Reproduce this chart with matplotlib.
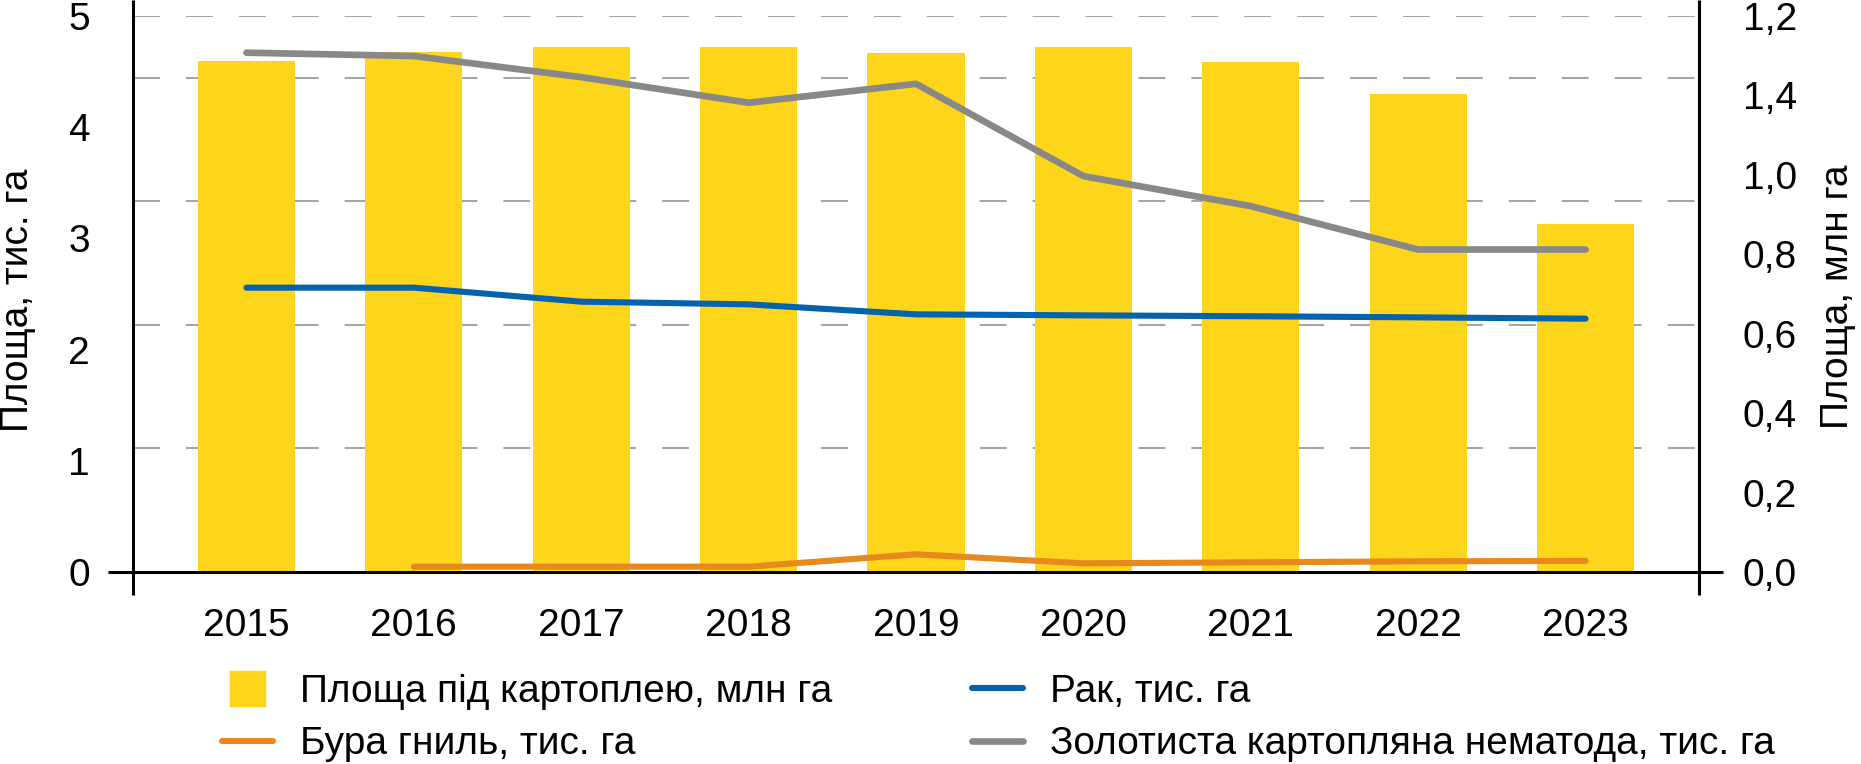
import matplotlib
matplotlib.use("Agg")
import matplotlib.pyplot as plt
import matplotlib.patches as mpatches
from matplotlib.lines import Line2D
from matplotlib.legend_handler import HandlerPatch
import numpy as np

plt.rcParams['font.family'] = ['Liberation Sans', 'DejaVu Sans']
plt.rcParams['lines.scale_dashes'] = False

# ---- data ----
years = ["2015", "2016", "2017", "2018", "2019", "2020", "2021", "2022", "2023"]
potato_area = [1.287, 1.309, 1.322, 1.322, 1.307, 1.322, 1.284, 1.204, 0.876]   # млн га (right axis)
rak = [2.557, 2.557, 2.431, 2.407, 2.317, 2.308, 2.300, 2.290, 2.278]          # тис. га
bura = [np.nan, 0.048, 0.048, 0.048, 0.159, 0.078, 0.087, 0.096, 0.100]       # тис. га
nematoda = [4.67, 4.64, 4.45, 4.22, 4.39, 3.56, 3.29, 2.90, 2.90]             # тис. га

left_ticks = [0, 1, 2, 3, 4, 5]
left_labels = ["0", "1", "2", "3", "4", "5"]
right_ticks = [0.0, 0.2, 0.4, 0.6, 0.8, 1.0, 1.2, 1.4]
right_labels = ["0,0", "0,2", "0,4", "0,6", "0,8", "1,0", "1,4", "1,2"]
grid_levels = [1, 2, 3, 4, 4.5]
grid_max = 4.5

label_bars = "Площа під картоплею, млн га"
label_bura = "Бура гниль, тис. га"
label_rak = "Рак, тис. га"
label_nem = "Золотиста картопляна нематода, тис. га"
ylabel_left = "Площа, тис. га"
ylabel_right = "Площа, млн га"

# ---- style ----
c_yellow = "#FDD51A"
c_blue = "#0563AE"
c_orange = "#E8891E"
c_gray = "#888888"
c_grid = "#A6A6A6"
fs = 28

W, H = 1861, 764
fig = plt.figure(figsize=(W / 100, H / 100), dpi=100)
L, R, T, B = 133, 1699, 16, 572
ax_b = fig.add_axes([L / W, 1 - B / H, (R - L) / W, (B - T) / H])
x = np.arange(len(years))

# gridlines (dashed) behind bars
for g in grid_levels:
    ax_b.plot([0, 1], [g / grid_max] * 2, transform=ax_b.transAxes,
              color=c_grid, lw=1.5, linestyle=(0, (19.4, 18.7)), zorder=0,
              solid_capstyle='butt', dash_capstyle='butt')

ax_b.bar(x, potato_area, width=0.58, color=c_yellow, zorder=2)
ax_b.set_ylim(0, 1.4)
ax_b.set_xlim(-0.678, len(years) - 1 + 0.678)

ax_l = ax_b.twinx()
ax_b.yaxis.tick_right()
ax_l.yaxis.tick_left()
ax_b.set_yticks(right_ticks)
ax_b.set_yticklabels(right_labels)
ax_l.set_ylim(0, 5)
ax_l.set_yticks(left_ticks)
ax_l.set_yticklabels(left_labels)
lw_line = 4.4
ax_l.plot(x, rak, color=c_blue, lw=lw_line, solid_capstyle='round', solid_joinstyle='round')
ax_l.plot(x, bura, color=c_orange, lw=lw_line, solid_capstyle='round', solid_joinstyle='round')
ax_l.plot(x, nematoda, color=c_gray, lw=lw_line + 0.4, solid_capstyle='round', solid_joinstyle='round')

for a in (ax_b, ax_l):
    for s in a.spines.values():
        s.set_visible(False)
    a.tick_params(axis='both', length=0, labelsize=fs, colors='black')
ax_b.tick_params(axis='y', pad=31.5)
ax_l.tick_params(axis='y', pad=31)
ax_b.set_xticks(x)
ax_b.set_xticklabels(years)
ax_b.tick_params(axis='x', pad=26)

# axis lines (extending past the plot area)
hh = B - T
ww = R - L
kw = dict(color='black', lw=2.2, clip_on=False, zorder=5, solid_capstyle='butt')
ax_l.plot([0, 0], [-23 / hh, 1 + 16 / hh], transform=ax_l.transAxes, **kw)
ax_l.plot([1, 1], [-23 / hh, 1 + 16 / hh], transform=ax_l.transAxes, **kw)
ax_l.plot([-25 / ww, 1 + 24 / ww], [0, 0], transform=ax_l.transAxes, **kw)

# axis titles
fig.text(18 / W, 1 - 300 / H, ylabel_left, rotation=90, ha='center', va='center', fontsize=fs)
fig.text(1838 / W, 1 - 297 / H, ylabel_right, rotation=90, ha='center', va='center', fontsize=fs)

# legend
side = 25.2  # points


def make_square(legend, orig_handle, xdescent, ydescent, width, height, fontsize):
    cx = -xdescent + width / 2
    cy = -ydescent + height / 2
    return mpatches.Rectangle((cx - side / 2, cy - side / 2), side, side)


h_bar = mpatches.Patch(color=c_yellow)
h_bura = Line2D([], [], color=c_orange, lw=lw_line, solid_capstyle='round')
h_rak = Line2D([], [], color=c_blue, lw=lw_line, solid_capstyle='round')
h_nem = Line2D([], [], color=c_gray, lw=lw_line + 0.4, solid_capstyle='round')
leg = fig.legend([h_bar, h_bura, h_rak, h_nem], [label_bars, label_bura, label_rak, label_nem],
                 ncol=2, loc='upper left', bbox_to_anchor=(222 / W, 1 - 674 / H),
                 frameon=False, fontsize=fs, handlelength=1.31, handletextpad=0.69,
                 columnspacing=3.6, labelspacing=0.42, borderpad=0, borderaxespad=0,
                 handler_map={mpatches.Patch: HandlerPatch(patch_func=make_square)})

fig.savefig("out.png", dpi=100)
